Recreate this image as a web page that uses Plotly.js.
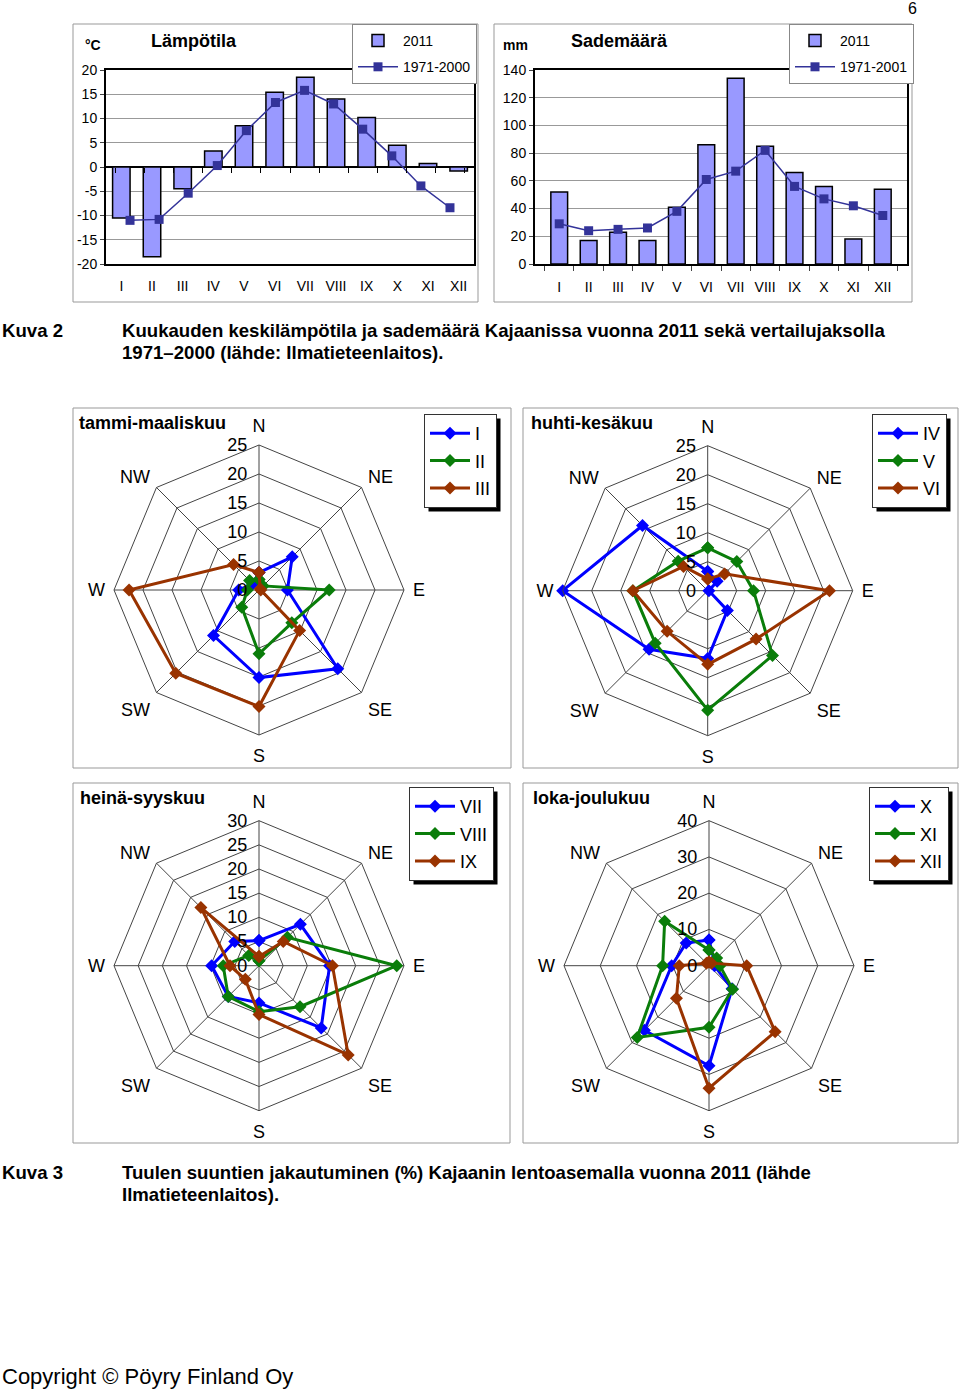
<!DOCTYPE html>
<html><head><meta charset="utf-8">
<script src="https://cdn.plot.ly/plotly-3.0.1.min.js"></script>
<style>body{margin:0;background:#fff}#c{width:960px;height:1391px}</style>
</head><body><div id="c"></div><script>
const months = ['I','II','III','IV','V','VI','VII','VIII','IX','X','XI','XII'];
const temp2011 = [-10.5,-18.5,-4.5,3.3,8.5,15.4,18.5,14.0,10.2,4.5,0.7,-0.8];
const temp7100 = [-11.0,-10.8,-5.4,0.3,7.5,13.3,15.8,13.0,7.8,2.3,-3.9,-8.4];
const prec2011 = [52,17,23,17,41,86,134,85,66,56,18,54];
const prec7101 = [29,24,25,26,38,61,67,82,56,47,42,35];
const tempTicks = [-20,-15,-10,-5,0,5,10,15,20];
const directions = ['N','NE','E','SE','S','SW','W','NW'];
const windI    = [3.0,8.1,4.9,19.2,15.1,11.1,3.5,1.5];
const windII   = [1.8,1.0,12.1,8.0,11.0,4.2,2.0,2.3];
const windIII  = [3.0,0.3,0.3,9.9,20.1,20.3,22.4,6.2];
const windIV   = [3.3,2.3,0.2,4.8,11.7,14.3,25.0,15.9];
const windV    = [7.4,7.1,7.9,15.8,20.6,12.8,12.9,7.2];
const windVI   = [2.0,4.1,21.0,11.8,12.7,9.9,12.9,5.9];
const windVII  = [5.2,12.1,14.6,18.2,7.7,9.0,9.8,7.1];
const windVIII = [1.0,8.3,28.5,12.0,9.5,9.0,7.4,3.0];
const windIX   = [1.9,7.1,15.2,26.1,10.1,4.0,6.0,17.0];
const windX    = [7.1,2.0,1.5,9.0,27.6,25.2,10.3,8.9];
const windXI   = [4.3,3.0,3.0,9.2,17.0,28.0,12.8,17.3];
const windXII  = [1.0,1.0,10.4,25.8,33.8,12.7,8.2,1.0];

const W = 960, H = 1391;
const px = x => x / W;
const py = y => 1 - y / H;
const FONT = 'Liberation Sans, Arial, sans-serif';
const BLUE = '#0000ff', GREEN = '#0a7d0a', BROWN = '#993300';
const NAVY = '#333399', BARC = '#9999ff';

const traces = [];
traces.push({type:'bar', x:months, y:temp2011, name:'2011', xaxis:'x', yaxis:'y',
  marker:{color:BARC, line:{color:'#000', width:1.5}}, legend:'legend', legendgroup:'a'});
traces.push({type:'scatter', mode:'lines+markers', x:months, y:temp7100, name:'1971-2000', xaxis:'x3', yaxis:'y',
  line:{color:NAVY, width:1.5}, marker:{symbol:'square', size:9, color:NAVY}, legend:'legend', legendgroup:'b'});
traces.push({type:'bar', x:months, y:prec2011, name:'2011', xaxis:'x2', yaxis:'y2',
  marker:{color:BARC, line:{color:'#000', width:1.5}}, legend:'legend2', legendgroup:'c'});
traces.push({type:'scatter', mode:'lines+markers', x:months, y:prec7101, name:'1971-2001', xaxis:'x2', yaxis:'y2',
  line:{color:NAVY, width:1.5}, marker:{symbol:'square', size:9, color:NAVY}, legend:'legend2', legendgroup:'d'});

function closed(a){ return a.concat([a[0]]); }
const radarSets = [
  {polar:'polar',  legend:'legend3', names:['I','II','III'],     data:[windI,windII,windIII]},
  {polar:'polar2', legend:'legend4', names:['IV','V','VI'],      data:[windIV,windV,windVI]},
  {polar:'polar3', legend:'legend5', names:['VII','VIII','IX'],  data:[windVII,windVIII,windIX]},
  {polar:'polar4', legend:'legend6', names:['X','XI','XII'],     data:[windX,windXI,windXII]},
];
const cols = [BLUE, GREEN, BROWN];
radarSets.forEach((s, si) => {
  s.data.forEach((d, i) => {
    traces.push({type:'scatterpolar', mode:'lines+markers', r:closed(d), theta:closed(directions),
      subplot:s.polar, name:s.names[i], legend:s.legend, legendgroup:'g'+si+'_'+i,
      line:{color:cols[i], width:3}, marker:{symbol:'diamond', size:10, color:cols[i]}});
  });
});

function polarCfg(cx, cy, rmax, dt){
  const R = 145;
  return {
    domain:{x:[px(cx-R), px(cx+R)], y:[py(cy+R), py(cy-R)]},
    gridshape:'linear', bgcolor:'rgba(0,0,0,0)',
    angularaxis:{type:'category', categoryarray:directions, direction:'clockwise', rotation:90,
      showline:true, linecolor:'#444', linewidth:1, gridcolor:'#444', gridwidth:1,
      ticks:'outside', ticklen:5, tickcolor:'rgba(0,0,0,0)',
      tickfont:{size:18, color:'#000', family:FONT}},
    radialaxis:{range:[0,rmax], dtick:dt, tick0:0, angle:90, tickangle:90, side:'counterclockwise',
      ticksuffix:'\u00a0\u2009',
      showline:false, gridcolor:'#444', gridwidth:1, ticks:'', tickfont:{size:18, color:'#000', family:FONT}}
  };
}

function legCfg(x, y, size, border, gap){
  return {x:px(x), y:py(y), xanchor:'left', yanchor:'top', bgcolor:'#fff', bordercolor:border, borderwidth:1,
    font:{size:size, family:FONT, color:'#000'}, tracegroupgap:gap, itemwidth:40};
}

const panelRects = [[73,24,478,302],[494,24,912,302],[73,408,511,768],[523,408,958,768],[73,783,510,1143],[523,783,958,1143]];
const shapes = panelRects.map(r => ({type:'rect', xref:'paper', yref:'paper', x0:px(r[0]), x1:px(r[2]), y0:py(r[3]), y1:py(r[1]),
  line:{color:'#999', width:1}, layer:'below'}));

function ann(text, x, y, size, opts){
  return Object.assign({text:text, x:px(x), y:py(y), xref:'paper', yref:'paper', showarrow:false,
    xanchor:'left', yanchor:'middle', align:'left', font:{size:size, family:FONT, color:'#000'}}, opts||{});
}
const CAP = 18.6;
const annotations = [
  ann('6', 912, 8, 16, {xanchor:'center'}),
  ann('<b>°C</b>', 93, 45, 14, {xanchor:'center'}),
  ann('<b>Lämpötila</b>', 194, 41, 18, {xanchor:'center'}),
  ann('<b>mm</b>', 515, 45, 14, {xanchor:'center'}),
  ann('<b>Sademäärä</b>', 619, 41, 18, {xanchor:'center'}),
  ann('<b>Kuva 2</b>', 0, 330, CAP),
  ann('<b>Kuukauden keskilämpötila ja sademäärä Kajaanissa vuonna 2011 sekä vertailujaksolla</b>', 120, 330, CAP),
  ann('<b>1971–2000 (lähde: Ilmatieteenlaitos).</b>', 120, 352, CAP),
  ann('<b>tammi-maaliskuu</b>', 77, 423, 18),
  ann('<b>huhti-kesäkuu</b>', 529, 423, 18),
  ann('<b>heinä-syyskuu</b>', 78, 798, 18),
  ann('<b>loka-joulukuu</b>', 531, 798, 18),
  ann('<b>Kuva 3</b>', 0, 1172, CAP),
  ann('<b>Tuulen suuntien jakautuminen (%) Kajaanin lentoasemalla vuonna 2011 (lähde</b>', 120, 1172, CAP),
  ann('<b>Ilmatieteenlaitos).</b>', 120, 1194, CAP),
  ann('Copyright © Pöyry Finland Oy', 0, 1376, 22),
];

const axFont = {size:14, family:FONT, color:'#000'};
const layout = {
  width:W, height:H, margin:{l:0,r:0,t:0,b:0}, paper_bgcolor:'#fff', plot_bgcolor:'#fff',
  font:{family:FONT, color:'#000'}, bargap:0.43,
  xaxis:{domain:[px(106), px(474)], anchor:'y', type:'category', categoryarray:months, showline:true, linecolor:'#000', linewidth:2,
    mirror:true, ticks:'', showgrid:false, tickfont:axFont, tickangle:0, ticklabelstandoff:8},
  xaxis3:{overlaying:'x', anchor:'free', position:py(167), type:'category', categoryarray:months, showline:false,
    ticks:'outside', ticklen:5, tickcolor:'#000', tickson:'boundaries', showticklabels:false, showgrid:false},
  yaxis:{domain:[py(264), py(70)], anchor:'x', range:[-20,20], tickmode:'array', tickvals:tempTicks, ticktext:tempTicks.map(String),
    showline:true, linecolor:'#000', linewidth:2, mirror:true,
    gridcolor:'#999', zeroline:true, zerolinecolor:'#000', zerolinewidth:2, ticks:'outside', ticklen:4, tickfont:axFont},
  xaxis2:{domain:[px(535), px(907)], anchor:'y2', type:'category', categoryarray:months, showline:true, linecolor:'#000', linewidth:2,
    mirror:true, ticks:'outside', ticklen:5, tickson:'boundaries', showgrid:false, tickfont:axFont, tickangle:0, ticklabelstandoff:9},
  yaxis2:{domain:[py(264), py(70)], anchor:'x2', range:[0,140], dtick:20, showline:true, linecolor:'#000', linewidth:2, mirror:true,
    gridcolor:'#999', zeroline:false, ticks:'outside', ticklen:4, tickfont:axFont},
  polar: polarCfg(259, 590, 25, 5),
  polar2: polarCfg(707.7, 590.7, 25, 5),
  polar3: polarCfg(259, 965.7, 30, 5),
  polar4: polarCfg(709, 965.7, 40, 10),
  legend: legCfg(352, 24, 14, '#888', 5),
  legend2: legCfg(789, 24, 14, '#888', 5),
  legend3: legCfg(424, 414, 18, '#333', 1),
  legend4: legCfg(872, 414, 18, '#333', 1),
  legend5: legCfg(409, 787, 18, '#333', 1),
  legend6: legCfg(869, 787, 18, '#333', 1),
  shapes: shapes, annotations: annotations, showlegend:true
};
const gd = document.getElementById('c');
Plotly.newPlot(gd, traces, layout, {staticPlot:true}).then(() => {
  const base = gd.getBoundingClientRect();
  const extra = [];
  ['legend3','legend4','legend5','legend6'].forEach(id => {
    const bg = gd.querySelector('g.' + id + ' rect.bg');
    if (!bg) return;
    const b = bg.getBoundingClientRect();
    const x0 = b.left - base.left + 4, x1 = b.right - base.left + 4;
    const y0 = b.top - base.top + 4, y1 = b.bottom - base.top + 4;
    extra.push({type:'rect', xref:'paper', yref:'paper', x0:px(x0), x1:px(x1), y0:py(y1), y1:py(y0),
      line:{width:0}, fillcolor:'#000', layer:'above'});
  });
  if (extra.length) Plotly.relayout(gd, {shapes: shapes.concat(extra)});
});
</script></body></html>
